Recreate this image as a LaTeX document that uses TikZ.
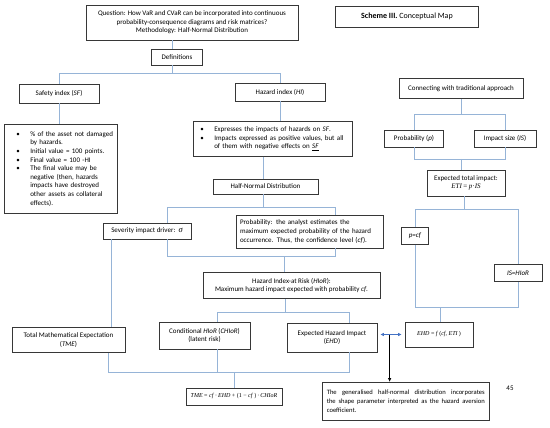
\documentclass[tikz,border=0pt]{standalone}
\usepackage{fontspec}
\setmainfont{Carlito}
\newfontfamily\tnr{Liberation Serif}
\usetikzlibrary{arrows.meta,calc}
\definecolor{lnk}{RGB}{150,180,215}
\definecolor{bdr}{RGB}{55,55,55}
\definecolor{arw}{RGB}{68,114,196}
\newcommand\bl[2]{\hspace*{#1}\makebox[#2][l]{•}}
\newcommand\tv[1]{{\tnr\itshape #1}}
\tikzset{
  bx/.style={draw=bdr, line width=0.6pt, fill=white, inner sep=1pt,
    font=\fontsize{7}{8.6}\selectfont, align=center},
  ln/.style={draw=lnk, line width=0.7pt},
}
\begin{document}
\begin{tikzpicture}[x=1pt,y=-1pt]
\useasboundingbox (0,0) rectangle (550,428);
% top
\node[bx, minimum width=212, minimum height=35] (q) at (192,22.5)
  {Question: How VaR and CVaR can be incorporated into continuous\\
   probability-consequence diagrams and risk matrices?\\
   Methodology: Half-Normal Distribution};
\node[bx, minimum width=143, minimum height=21, font=\fontsize{8}{9.6}\selectfont] (sch) at (407,16.5)
  {\textbf{Scheme III.} Conceptual Map};
\node[bx, minimum width=51, minimum height=16] (def) at (177,57) {Definitions};
\node[bx, minimum width=80, minimum height=19] (sf) at (59,93.5) {Safety index (\textit{SF})};
\node[bx, minimum width=90, minimum height=18] (hi) at (280,92) {Hazard index (\textit{HI})};
\node[bx, minimum width=124, minimum height=20] (conn) at (461,88.5) {Connecting with traditional approach};
% bullet boxes
\node[bx, align=left, text width=105, inner xsep=4pt, minimum height=89, anchor=north west] (sfb) at (4,124)
  {\bl{8pt}{14pt}\% of the asset not damaged\\
   \hspace*{22pt}by hazards.\\
   \bl{8pt}{14pt}Initial value = 100 points.\\
   \bl{8pt}{14pt}Final value = 100 -HI\\
   \bl{8pt}{14pt}The final value may be\\
   \hspace*{22pt}negative (then, hazards\\
   \hspace*{22pt}impacts have destroyed\\
   \hspace*{22pt}other assets as collateral\\
   \hspace*{22pt}effects).};
\node[bx, align=left, text width=151, inner xsep=4pt, minimum height=35, anchor=north west] (hib) at (193,121)
  {\bl{3pt}{14pt}Expresses the impacts of hazards on \textit{SF}.\\
   \bl{3pt}{14pt}Impacts expressed as positive values, but all\\
   \hspace*{17pt}of them with negative effects on \underline{\textit{SF}}};
\node[bx, minimum width=59, minimum height=17] (pp) at (414,138.5) {Probability (\textit{p})};
\node[bx, minimum width=62, minimum height=17] (is) at (505,138.5) {Impact size (\textit{IS})};
\node[bx, minimum width=105, minimum height=15] (hn) at (265.5,186.5) {Half-Normal Distribution};
\node[bx, minimum width=78, minimum height=26] (eti) at (466,183)
  {Expected total impact:\\ \tv{ETI} {\tnr=} \tv{p}{\tnr·}\tv{IS}};
\node[bx, minimum width=88, minimum height=16] (sev) at (147,231)
  {Severity impact driver:\ \ {\tnr\itshape\fontsize{8.5}{9}\selectfont σ}};
\node[bx, align=left, text width=139, inner xsep=4pt, minimum height=33] (prob) at (309.5,231.5)
  {Probability: the analyst estimates the\\
   maximum expected probability of the hazard\\
   occurrence. Thus, the confidence level (\textit{cf}).};
\node[bx, minimum width=27, minimum height=17] (pcf) at (415,236) {\textit{p=cf}};
\node[bx, minimum width=177, minimum height=26] (hior) at (291.5,285.5)
  {Hazard Index-at Risk (\textit{HIoR}):\\ Maximum hazard impact expected with probability \textit{cf}.};
\node[bx, minimum width=48, minimum height=17] (ish) at (518,273) {\textit{IS=HIoR}};
% bottom
\node[bx, minimum width=113, minimum height=25] (tme) at (68.5,340)
  {Total Mathematical Expectation\\ (\textit{TME})};
\node[bx, minimum width=91, minimum height=27] (chior) at (204.5,335.5)
  {Conditional \textit{HIoR} (\textit{CHIoR})\\ (latent risk)};
\node[bx, minimum width=90, minimum height=29] (ehd) at (332,337.5)
  {Expected Hazard Impact\\ (\textit{EHD})};
\node[bx, minimum width=68, minimum height=25, font=\tnr\fontsize{6}{7}\selectfont] (ehdf) at (439,334.5)
  {\textit{EHD} = \textit{f}\,(\textit{cf}, \textit{ETI}\,)};
\node[bx, minimum width=96, minimum height=17, font=\tnr\fontsize{6}{7}\selectfont] (tmef) at (234,396.5)
  {\textit{TME} = \textit{cf}\,·\,\textit{EHD} + (1 − \textit{cf}\,)\,·\,\textit{CHIoR}};
\node[bx, align=justify, text width=158, inner xsep=4.5pt, minimum height=38, anchor=north west,
  font=\fontsize{6.6}{8.6}\selectfont] (gen) at (322,382)
  {The generalised half-normal distribution incorporates\linebreak
   the shape parameter interpreted as the hazard aversion\linebreak
   coefficient.};
\node[font=\fontsize{7}{8}\selectfont, inner sep=0] (pg) at (510,388) {45};
% junction coordinates
\coordinate (j1) at (172,73);
\coordinate (j2) at (263,207);
\coordinate (j3) at (284,256);
\coordinate (j4) at (285,312);
\coordinate (j5) at (234,372);
\coordinate (j6) at (461,114);
\coordinate (j7) at (461,159);
\coordinate (j8) at (464,209);
\coordinate (j9) at (440,307);
% connectors
\draw[ln] (q.south -| j1) -- (def.north -| j1);
\draw[ln] (def.south -| j1) -- (j1);
\draw[ln] (sf.north) -- (sf.north |- j1) -- (hi.north |- j1) -- (hi.north);
\draw[ln] (sf.south) -- (sf.south |- sfb.north);
\draw[ln] (hi.south) -- (hi.south |- hib.north);
\draw[ln] (hib.south -| j2) -- (hn.north -| j2);
\draw[ln] (hn.south -| j2) -- (j2);
\draw[ln] (sev.north -| 167,0) -- (j2 -| 167,0) -- (j2 -| 335,0) -- (prob.north -| 335,0);
\draw[ln] (sev.south -| 167,0) -- (j3 -| 167,0) -- (j3 -| 335,0) -- (prob.south -| 335,0);
\draw[ln] (j3) -- (hior.north -| j3);
\draw[ln] (sev.south -| 111,0) -- (tme.north -| 111,0);
\draw[ln] (hior.south -| j4) -- (j4);
\draw[ln] (chior.north -| 217,0) -- (j4 -| 217,0) -- (j4 -| 349,0) -- (ehd.north -| 349,0);
\draw[ln] (tme.south -| 108,0) -- (j5 -| 108,0) -- (j5 -| 349,0) -- (ehd.south -| 349,0);
\draw[ln] (chior.south -| 217,0) -- (j5 -| 217,0);
\draw[ln] (j5) -- (tmef.north -| j5);
\draw[ln] (conn.south -| j6) -- (j6);
\draw[ln] (pp.north) -- (pp.north |- j6) -- (is.north |- j6) -- (is.north);
\draw[ln] (pp.south) -- (pp.south |- j7) -- (is.south |- j7) -- (is.south);
\draw[ln] (j7) -- (eti.north -| j7);
\draw[ln] (eti.south -| j8) -- (j8);
\draw[ln] (pcf.north) -- (pcf.north |- j8) -- (ish.north |- j8) -- (ish.north);
\draw[ln] (pcf.south) -- (pcf.south |- j9) -- (ish.south |- j9) -- (ish.south);
\draw[ln] (j9) -- (ehdf.north -| j9);
% arrows
\draw[arw, line width=0.9pt, {Latex[length=3.5pt,width=3.5pt]}-{Latex[length=3.5pt,width=3.5pt]}]
  ($(ehd.east |- ehdf.west)+(3,0)$) -- ($(ehdf.west)+(-3,0)$);
\draw[black, line width=0.7pt, -{Latex[length=4pt,width=3.5pt]}]
  ($(ehd.east |- ehdf.west)!0.45!(ehdf.west)$) -- ($(ehd.east |- gen.north)!0.45!(ehdf.west |- gen.north)$);
\end{tikzpicture}
\end{document}
